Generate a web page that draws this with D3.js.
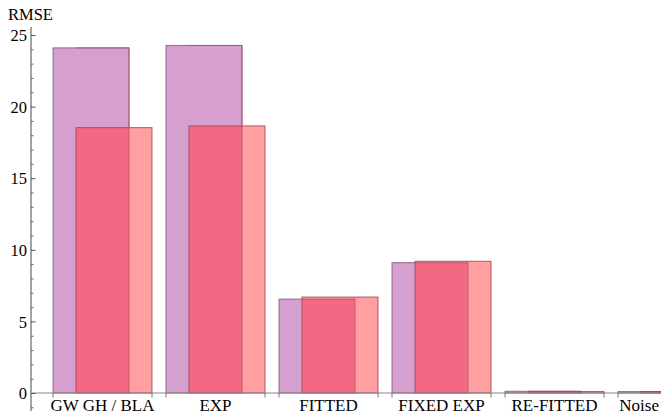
<!DOCTYPE html>
<html>
<head>
<meta charset="utf-8">
<script src="https://cdn.jsdelivr.net/npm/d3@7"></script>
<style>
html,body{margin:0;padding:0;background:#fff;}
svg{display:block;}
svg text{font-family:'Liberation Serif', serif;}
</style>
</head>
<body>
<svg id="chart" width="661" height="416"></svg>
<script>
// ---- data ----
const categories = ["GW GH / BLA", "EXP", "FITTED", "FIXED EXP", "RE-FITTED", "Noise"];
const seriesA = [24.1, 24.27, 6.56, 9.10, 0.12, 0.10];   // purple
const seriesB = [18.53, 18.65, 6.70, 9.20, 0.10, 0.10];  // red
const majorTicks = [0, 5, 10, 15, 20, 25];
const axisTitle = "RMSE";

// ---- layout ----
const FONT = "'Liberation Serif', serif";
const W = 661, H = 416;
const svg = d3.select("#chart");
const axisX = 31;
const y = d3.scaleLinear().domain([0, 25]).range([393, 35]);
const x = d3.scaleBand().domain(categories).range([53, 53 + 6 * 113 - 14])
  .paddingInner(14 / 113).paddingOuter(0);
const barFrac = 76 / 99, offFrac = 23 / 99;

const purpleFill = "#d5a0cf", purpleStroke = "#7d5c7b";
const salmonFill = "#ff9f9f", overlapFill = "#f36882", redStroke = "#9c4656";

const g = svg.append("g");

categories.forEach((c, i) => {
  const x0 = x(c), bw = x.bandwidth();
  const aL = x0, aR = x0 + bw * barFrac;
  const bL = x0 + bw * offFrac, bR = x0 + bw;
  const ya = y(seriesA[i]), yb = y(seriesB[i]), y0 = y(0);
  g.append("rect").attr("x", aL).attr("y", ya).attr("width", aR - aL).attr("height", y0 - ya)
    .attr("fill", purpleFill).attr("stroke", purpleStroke).attr("stroke-width", 1).attr("stroke-opacity", 0.85);
  g.append("rect").attr("x", bL).attr("y", yb).attr("width", bR - bL).attr("height", y0 - yb)
    .attr("fill", salmonFill);
  const oTop = Math.max(ya, yb);
  g.append("rect").attr("x", bL).attr("y", oTop).attr("width", aR - bL).attr("height", y0 - oTop)
    .attr("fill", overlapFill);
  g.append("path")
    .attr("d", `M${bL},${ya}H${aR}V${y0}`)
    .attr("fill", "none").attr("stroke", "#b04a62").attr("stroke-width", 1).attr("stroke-opacity", 0.7);
  g.append("rect").attr("x", bL).attr("y", yb).attr("width", bR - bL).attr("height", y0 - yb)
    .attr("fill", "none").attr("stroke", redStroke).attr("stroke-width", 1).attr("stroke-opacity", 0.85);
});

// x axis line
svg.append("line").attr("x1", axisX).attr("x2", W).attr("y1", y(0)).attr("y2", y(0))
  .attr("stroke", "#8a8a8a").attr("stroke-width", 1.2);
categories.forEach(c => {
  [x(c), x(c) + x.bandwidth()].forEach(px => {
    svg.append("line").attr("x1", px).attr("x2", px).attr("y1", y(0)).attr("y2", y(0) + 4.5)
      .attr("stroke", "#777").attr("stroke-width", 1);
  });
});
categories.forEach(c => {
  const t = svg.append("text").attr("y", 411).attr("text-anchor", "middle")
    .attr("font-family", FONT).attr("font-size", 17).attr("fill", "#000").text(c);
  let cx = x(c) + x.bandwidth() / 2;
  const w = t.node().getComputedTextLength();
  cx = Math.min(cx, W - w / 2 - 2);
  t.attr("x", cx);
});

// y axis
svg.append("line").attr("x1", axisX).attr("x2", axisX).attr("y1", 27).attr("y2", 411)
  .attr("stroke", "#999").attr("stroke-width", 1.8);
const minor = d3.range(-1, 26).filter(v => !majorTicks.includes(v));
const yMinor = svg.append("g").attr("transform", `translate(${axisX},0)`)
  .call(d3.axisLeft(y).tickValues(minor).tickSizeInner(-2.5).tickSizeOuter(0).tickFormat(""));
yMinor.select(".domain").remove();
yMinor.selectAll("line").attr("stroke", "#666");
const yMajor = svg.append("g").attr("transform", `translate(${axisX},0)`)
  .call(d3.axisLeft(y).tickValues(majorTicks).tickSizeInner(-4.5).tickSizeOuter(0).tickPadding(4));
yMajor.attr("font-family", FONT);
yMajor.select(".domain").remove();
yMajor.selectAll("line").attr("stroke", "#555");
yMajor.selectAll("text").attr("font-size", 16.5).attr("font-family", FONT)
  .attr("fill", "#000").attr("dy", "0.34em");

svg.append("text").attr("x", 8).attr("y", 20).attr("font-family", FONT)
  .attr("font-size", 16.5).attr("fill", "#000").text(axisTitle);
</script>
</body>
</html>
